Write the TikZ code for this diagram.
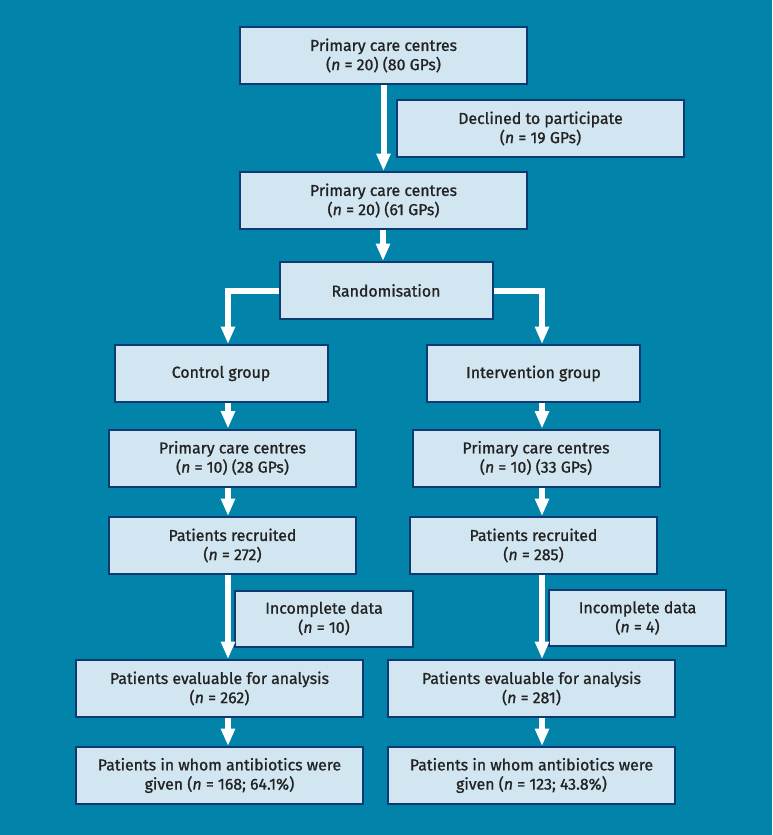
\documentclass[tikz,border=0pt]{standalone}
\usepackage{fontspec}
\setmainfont{Fira Sans}[FakeBold=1]
\usetikzlibrary{arrows.meta}
\definecolor{bgblue}{HTML}{0283A9}
\definecolor{boxfill}{HTML}{D2E6F2}
\definecolor{boxline}{HTML}{0B3B72}
\definecolor{ink}{HTML}{222222}
\begin{document}
\begin{tikzpicture}[
	                 x = 0.75pt,
	                 y = -0.75pt,
	   stage/.style = {draw=boxline, fill=boxfill, line width=1.5pt, align=center,
	                   text=ink, font=\fontsize{11.9}{14.4}\selectfont,
	                   minimum height=42.75pt, inner sep=0pt},
	    wide/.style = {stage, minimum width=215.25pt},
	    mean/.style = {stage, minimum width=159.75pt},
	    mids/.style = {stage, minimum width=185.25pt},
	    side/.style = {stage, minimum width=133pt, minimum height=42pt},
	    flow/.style = {draw=white, line width=4.5pt, line join=miter,
	                   -{Triangle[width=10pt, length=13pt]}},
	                   ]
	\fill[bgblue] (0,0) rectangle (772,835);
	\useasboundingbox (0,0) rectangle (772,835);
	% top of the chart
	\node[wide] (centres)  at (383.5, 55.5)  {Primary care centres\\(\textit{n} = 20) (80 GPs)};
	\node[wide] (declined) at (540.5, 128.5) {Declined to participate\\(\textit{n} = 19 GPs)};
	\node[wide] (joined)   at (383.5, 200.5) {Primary care centres\\(\textit{n} = 20) (61 GPs)};
	\node[mean] (random)   at (386, 290.5)   {Randomisation};
	% the two arms
	\coordinate (lcol) at (228, 0);
	\coordinate (rcol) at (542, 0);
	\node[mean] (control)  at (221, 373.5)   {Control group};
	\node[mean] (interv)   at (533.5, 373.5) {Intervention group};
	\node[mids] (lcentres) at (232.5, 458)   {Primary care centres\\(\textit{n} = 10) (28 GPs)};
	\node[mids] (rcentres) at (536, 458)     {Primary care centres\\(\textit{n} = 10) (33 GPs)};
	\node[mids] (lrecruit) at (232.5, 545.5) {Patients recruited\\(\textit{n} = 272)};
	\node[mids] (rrecruit) at (533.5, 545.5) {Patients recruited\\(\textit{n} = 285)};
	\node[side] (lmissing) at (324, 618.5)   {Incomplete data\\(\textit{n} = 10)};
	\node[side] (rmissing) at (637.5, 618)   {Incomplete data\\(\textit{n} = 4)};
	\node[wide] (leval)    at (219.5, 688.5) {Patients evaluable for analysis\\(\textit{n} = 262)};
	\node[wide] (reval)    at (531.5, 688.5) {Patients evaluable for analysis\\(\textit{n} = 281)};
	\node[wide] (lanti)    at (219.5, 775.5) {Patients in whom antibiotics were\\given (\textit{n} = 168; 64.1\%)};
	\node[wide] (ranti)    at (531.5, 775.5) {Patients in whom antibiotics were\\given (\textit{n} = 123; 43.8\%)};
	% connectors
	\draw[flow] (centres.south) -- (joined.north);
	\draw[flow] (random.north |- joined.south) ++(-3,0) coordinate (rtop) -- (rtop |- random.north);
	\draw[flow] (random.west) -| (lcol |- control.north);
	\draw[flow] (random.east) -| (rcol |- interv.north);
	\foreach \from/\to in {control/lcentres, lcentres/lrecruit, lrecruit/leval, leval/lanti}
		\draw[flow] (lcol |- \from.south) -- (lcol |- \to.north);
	\foreach \from/\to in {interv/rcentres, rcentres/rrecruit, rrecruit/reval, reval/ranti}
		\draw[flow] (rcol |- \from.south) -- (rcol |- \to.north);
\end{tikzpicture}
\end{document}
